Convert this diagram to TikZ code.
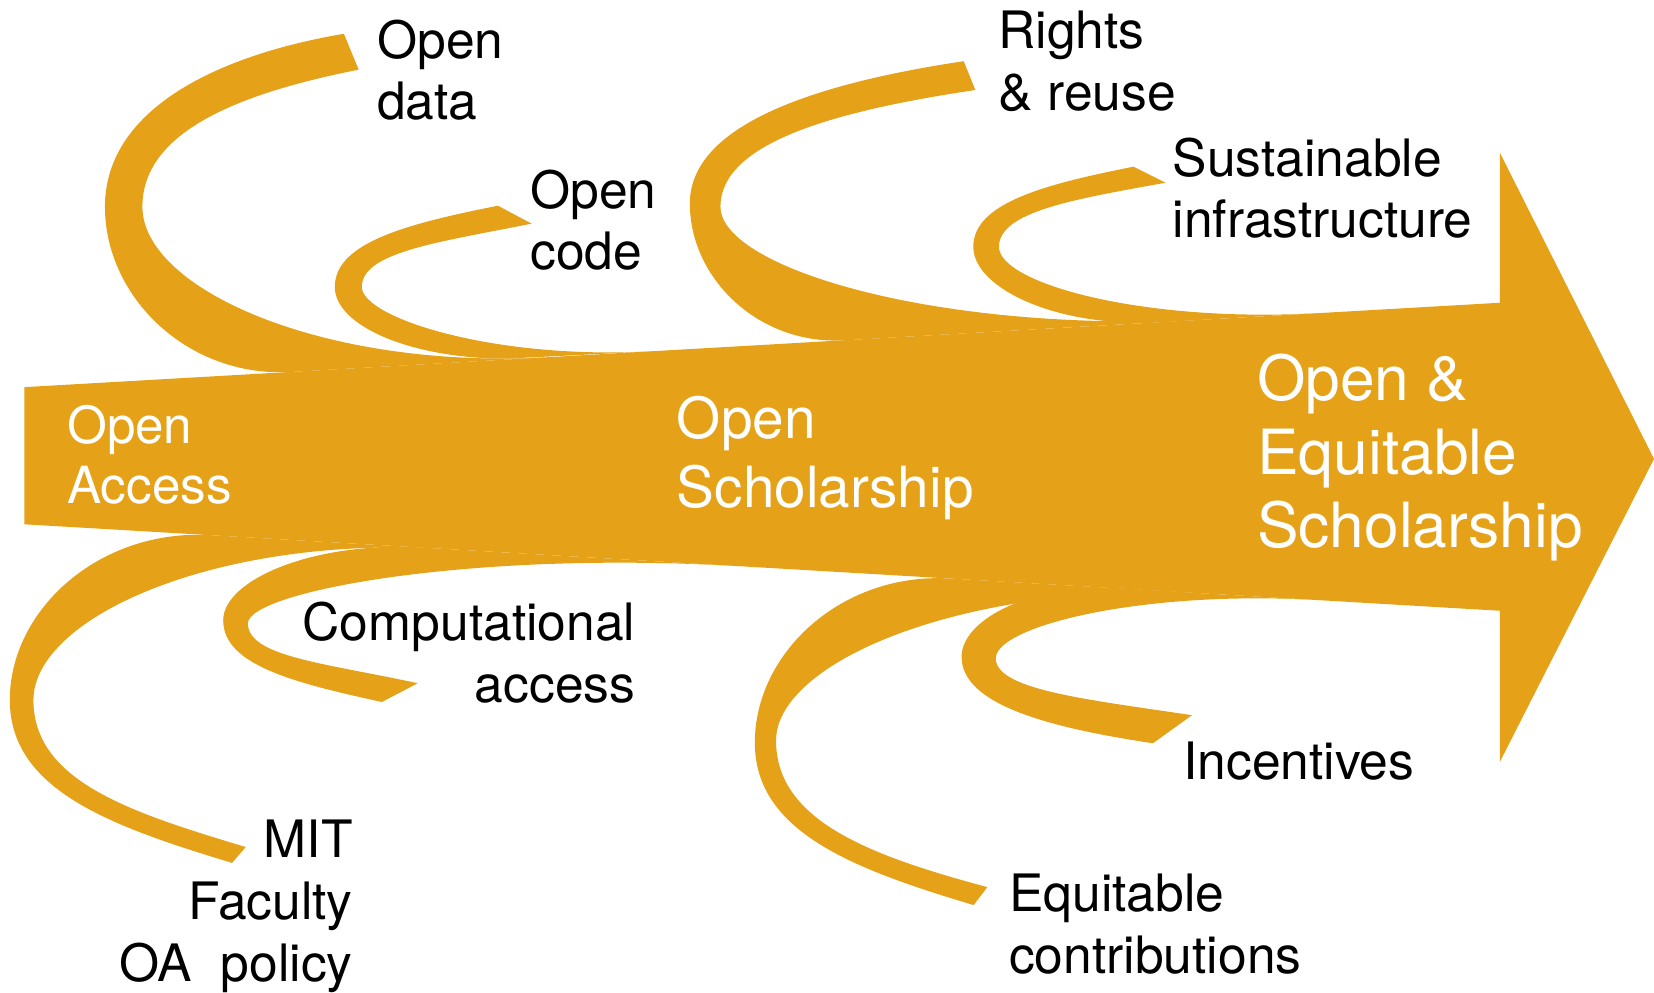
\documentclass[tikz,border=0pt]{standalone}
\usepackage{fontspec}
\setmainfont{TeX Gyre Heros}
\usepackage{tikz}
\definecolor{oagold}{RGB}{229,161,23}

\begin{document}
\begin{tikzpicture}[x=0.01cm, y=-0.01cm,
  band/.style={fill=oagold},
  branchlabel/.style={inner sep=0pt, align=left, text=black,
    font=\fontsize{13.9}{16.6}\selectfont},
  stagelabel/.style={inner sep=0pt, align=left, text=white}]
\useasboundingbox (0,0) rectangle (1568,941);
% Main arrow
\fill[band] (23,367) -- (1422,287) -- (1422,145) -- (1568,435) -- (1422,722)
  -- (1422,579) -- (23,497) -- cycle;
% Branches above the arrow
\fill[band] (275,352.6) .. controls (178.5,358) and (99.5,282) .. (99.5,196)
  .. controls (99.5,105.8) and (201.4,53.2) .. (326,32) -- (340,66)
  .. controls (227,88.5) and (135,124.5) .. (135,196)
  .. controls (135,274.4) and (308,350.7) .. (520,338.6) -- cycle;
\fill[band] (480,340) .. controls (390,340) and (317.4,309) .. (317.4,272)
  .. controls (317.4,229.7) and (387,212) .. (472,195) -- (504,212)
  .. controls (415.5,229.7) and (343,239) .. (343,272)
  .. controls (343,301) and (467.6,341.6) .. (620,332.9) -- cycle;
\fill[band] (800,322.6) .. controls (719.7,327.2) and (654,264.3) .. (654,193)
  .. controls (654,118.8) and (770.8,79.4) .. (913.6,58) -- (924.6,85.3)
  .. controls (791.7,105.2) and (683,135.1) .. (683,196)
  .. controls (683,254.6) and (893.2,317.2) .. (1150,302.5) -- cycle;
\fill[band] (1100,305.4) .. controls (1002.5,311) and (922.7,273.3) .. (922.7,234)
  .. controls (922.7,192.2) and (991,174.7) .. (1074.5,158) -- (1105,173.2)
  .. controls (1018,188.9) and (947,200.6) .. (947,234)
  .. controls (947,268.5) and (1083.4,306.3) .. (1250,296.8) -- cycle;
% Branches below the arrow
\fill[band] (199,507.3) .. controls (94.7,501.2) and (9.3,577.6) .. (9.3,663.6)
  .. controls (9.3,748.5) and (104,783) .. (220,818) -- (233,803)
  .. controls (122.5,769.8) and (31.7,740.3) .. (31.7,663.6)
  .. controls (31.7,584.8) and (206.6,507.8) .. (420,520.3) -- cycle;
\fill[band] (400,519.1) .. controls (296.4,513) and (211.6,550) .. (211.6,588)
  .. controls (211.6,630.6) and (279.3,647.3) .. (362,665.5) -- (396,647.7)
  .. controls (307.5,628.5) and (235,622.4) .. (235,591)
  .. controls (235,561.1) and (444.3,521.7) .. (700,536.7) -- cycle;
\fill[band] (900,548.4) .. controls (798.6,542.5) and (715.6,618.4) .. (715.6,704)
  .. controls (715.6,788.7) and (808.9,823.8) .. (923,858) -- (936,841)
  .. controls (825.8,811.3) and (735.7,778.5) .. (735.7,702)
  .. controls (735.7,625.5) and (922.1,549.5) .. (1150,562.9) -- cycle;
\fill[band] (1060,557.8) .. controls (978.4,553) and (911.6,587) .. (911.6,622.6)
  .. controls (911.6,667.7) and (993.2,689.6) .. (1093,704.6) -- (1130,678)
  .. controls (1027.7,662.7) and (944,653.7) .. (944,624)
  .. controls (944,593.8) and (1081.7,559.1) .. (1250,568.9) -- cycle;
% Stages
\node[stagelabel, anchor=north west, font=\fontsize{13.8}{16.2}\selectfont]
  (openaccess) at (63,383) {Open\\Access};
\node[stagelabel, anchor=north west, font=\fontsize{15.3}{18.5}\selectfont]
  (openschol) at (641,375) {Open\\Scholarship};
\node[stagelabel, anchor=north west, font=\fontsize{16.8}{19.8}\selectfont]
  (equischol) at (1191,335) {Open \&\\Equitable\\Scholarship};
% Branch labels
\node[branchlabel, anchor=north west] (opendata) at (357,18) {Open\\data};
\node[branchlabel, anchor=north west] (opencode) at (502,160) {Open\\code};
\node[branchlabel, anchor=north west] (rights) at (946,10) {Rights\\\& reuse};
\node[branchlabel, anchor=north west] (infra) at (1111,130) {Sustainable\\infrastructure};
\node[branchlabel, anchor=north east, align=right] (compaccess) at (603,570) {Computational\\access};
\node[branchlabel, anchor=north east, align=right] (mitpolicy) at (335,777) {MIT\\Faculty\\OA\ \ policy};
\node[branchlabel, anchor=north west] (incentives) at (1121,703) {Incentives};
\node[branchlabel, anchor=north west] (equicontrib) at (956,828) {Equitable\\contributions};
\end{tikzpicture}
\end{document}
